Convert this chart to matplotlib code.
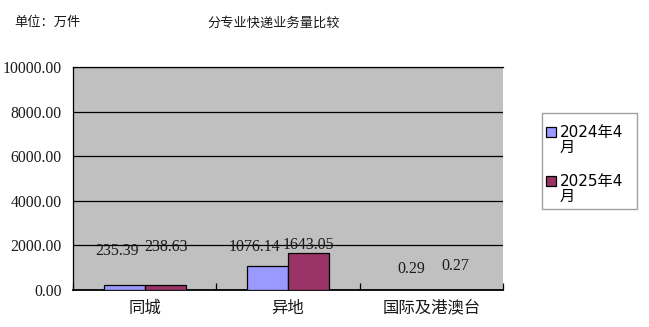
import matplotlib
matplotlib.use('Agg')
import matplotlib.pyplot as plt
import numpy as np
from matplotlib.patches import Rectangle

categories = ['同城', '异地', '国际及港澳台']
series_names = ['2024年4月', '2025年4月']
values_2024 = [235.39, 1076.14, 0.29]
values_2025 = [238.63, 1643.05, 0.27]
y_ticks = [0, 2000, 4000, 6000, 8000, 10000]
title = '分专业快递业务量比较'
unit = '单位：万件'

# label offsets (pixels) relative to bar top centre
offs_2024 = [(-7, 34), (-13, 19), (0, 21)]
offs_2025 = [(1, 38), (0, 8), (3, 24)]

W, H = 649, 327
fig = plt.figure(figsize=(W / 100, H / 100), dpi=100)
fig.patch.set_facecolor('white')


def fx(px):
    return px / W


def fy(py):
    return 1 - py / H


CJK = ['Noto Sans CJK SC', 'DejaVu Sans']
SERIF = ['Liberation Serif', 'DejaVu Serif']
LEG = ['DejaVu Sans', 'Noto Sans CJK SC']

ax = fig.add_axes([fx(73), fy(290), fx(503) - fx(73), fy(67) - fy(290)])
ax.set_facecolor('#C0C0C0')
x = np.arange(len(categories))
bw = 0.286
b1 = ax.bar(x - bw / 2, values_2024, bw, color='#9999FF', edgecolor='black', linewidth=0.9, zorder=3)
b2 = ax.bar(x + bw / 2, values_2025, bw, color='#993366', edgecolor='black', linewidth=0.9, zorder=3)

ax.set_xlim(-0.5, 2.5)
ax.set_ylim(0, 10000)
ax.set_yticks(y_ticks)
ax.set_yticklabels([f'{v:.2f}' for v in y_ticks], fontfamily=SERIF, fontsize=11.3, color='#1a1a1a')
ax.tick_params(axis='y', length=0, pad=8)
ax.yaxis.grid(True, color='black', linewidth=0.9)
ax.set_axisbelow(True)

ax.set_xticks(x)
ax.set_xticklabels(categories, fontfamily=CJK, fontsize=11.8, color='#1a1a1a')
ax.set_xticks(np.arange(-0.5, len(categories) + 0.5, 1), minor=True)
ax.tick_params(axis='x', which='major', length=0, pad=7)
ax.tick_params(axis='x', which='minor', direction='in', length=5, width=0.9, color='black')

for s in ['left', 'bottom', 'top']:
    ax.spines[s].set_color('black')
    ax.spines[s].set_linewidth(0.9)
ax.spines['right'].set_visible(False)
ax.spines['bottom'].set_linewidth(1.3)

for bars, vals, offs in [(b1, values_2024, offs_2024), (b2, values_2025, offs_2025)]:
    for rect, v, (dx, dy) in zip(bars, vals, offs):
        ax.annotate(f'{v:.2f}', xy=(rect.get_x() + rect.get_width() / 2, v),
                    xytext=(dx, dy), textcoords='offset pixels',
                    ha='center', va='center', fontfamily=SERIF, fontsize=11.5,
                    color='#1a1a1a', zorder=4)

fig.text(fx(274), fy(23), title, ha='center', va='center', fontfamily=CJK, fontsize=9.5, color='#1a1a1a')
fig.text(fx(14), fy(22), unit, ha='left', va='center', fontfamily=CJK, fontsize=9.5, color='#1a1a1a')

# legend
fig.patches.append(Rectangle((fx(542), fy(209)), fx(637) - fx(542), fy(113) - fy(209),
                             transform=fig.transFigure, facecolor='white', edgecolor='#A0A0A0',
                             linewidth=1.0))
for name, col, cy in [(series_names[0], '#9999FF', 132), (series_names[1], '#993366', 181)]:
    fig.patches.append(Rectangle((fx(546), fy(cy + 5)), fx(556) - fx(546), fy(cy - 5) - fy(cy + 5),
                                 transform=fig.transFigure, facecolor=col, edgecolor='black',
                                 linewidth=0.9))
    fig.text(fx(560), fy(cy), name[:-1], ha='left', va='center', fontfamily=LEG, fontsize=11, color='black')
    fig.text(fx(560), fy(cy + 15), name[-1], ha='left', va='center', fontfamily=LEG, fontsize=11, color='black')

fig.savefig('out.png', dpi=100)
